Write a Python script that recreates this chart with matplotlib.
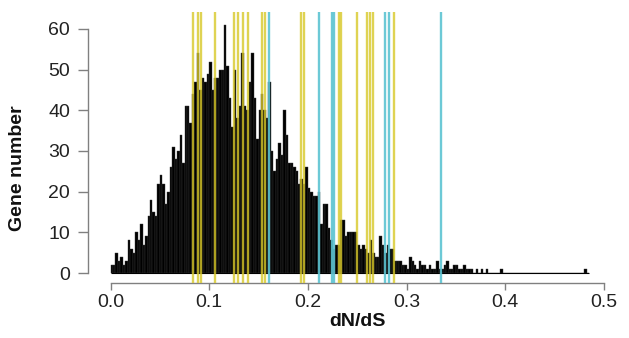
import numpy as np
import matplotlib
matplotlib.use("Agg")
from matplotlib import pyplot as plt

plt.rcParams["font.family"] = ["Liberation Sans", "DejaVu Sans"]

BIN_WIDTH = 0.0025
# gene counts per dN/dS bin, starting at 0.0
counts = [
    2, 2, 5, 3, 4, 2, 3, 8, 6, 5, 10, 8, 12, 7, 9, 14, 18, 15, 14, 22,
    24, 22, 17, 20, 26, 31, 28, 30, 34, 27, 41, 41, 37, 44, 47, 54, 45, 48, 47, 49,
    52, 45, 48, 48, 50, 50, 61, 51, 43, 36, 50, 38, 41, 54, 41, 40, 47, 54, 43, 33,
    40, 44, 40, 38, 47, 30, 25, 28, 32, 29, 40, 34, 27, 27, 26, 25, 22, 23, 22, 26,
    21, 20, 19, 19, 20, 12, 17, 17, 11, 8, 6, 7, 7, 13, 13, 9, 10, 10, 10, 10,
    7, 6, 7, 6, 5, 8, 5, 4, 4, 9, 7, 5, 7, 6, 6, 3, 3, 3, 2, 2,
    1, 4, 3, 2, 1, 3, 2, 2, 1, 2, 1, 1, 3, 1, 1, 2, 3, 1, 1, 2,
    2, 1, 1, 2, 1, 1, 1, 0, 1, 0, 1, 0, 1, 0, 0, 0, 0, 0, 1, 0,
    0, 0, 0, 0, 0, 0, 0, 0, 0, 0, 0, 0, 0, 0, 0, 0, 0, 0, 0, 0,
    0, 0, 0, 0, 0, 0, 0, 0, 0, 0, 0, 0, 1, 0,
]

# dN/dS of highlighted genes
yellow_genes = [0.084, 0.089, 0.092, 0.106, 0.125, 0.129, 0.134, 0.139, 0.154, 0.157,
                0.193, 0.196, 0.232, 0.234, 0.250, 0.260, 0.263, 0.266, 0.287]
cyan_genes = [0.161, 0.211, 0.224, 0.226, 0.278, 0.282, 0.335]

x_ticks = [0.0, 0.1, 0.2, 0.3, 0.4, 0.5]
y_ticks = [0, 10, 20, 30, 40, 50, 60]

W, H = 629, 338
fig = plt.figure(figsize=(W / 100, H / 100), dpi=100)
ax = fig.add_axes([88 / W, (H - 283) / H, (615 - 88) / W, (283 - 12) / H])

lefts = np.arange(len(counts)) * BIN_WIDTH
ax.bar(lefts, counts, width=BIN_WIDTH, align="edge", color="black",
       edgecolor="#3a3a3a", linewidth=0.3, zorder=2)
ax.hlines(0, 0, len(counts) * BIN_WIDTH, color="black", linewidth=0.8, zorder=2)

for g in yellow_genes:
    ax.axvline(g, color="#d8c828", alpha=0.8, linewidth=1.7, zorder=3)
for g in cyan_genes:
    ax.axvline(g, color="#5cc3d2", alpha=0.9, linewidth=1.7, zorder=3)

ax.set_xlim((88 - 110.5) / 987, (615 - 110.5) / 987)
ax.set_ylim((273 - 283) / 4.067, (273 - 12) / 4.067)

for side in ["top", "right"]:
    ax.spines[side].set_visible(False)
ax.spines["left"].set_bounds(0, 60)
ax.spines["bottom"].set_bounds(0, 0.5)
for side in ["left", "bottom"]:
    ax.spines[side].set_color("#808080")
    ax.spines[side].set_linewidth(1.0)

ax.set_xticks(x_ticks)
ax.set_xticklabels([f"{t:.1f}" for t in x_ticks])
ax.set_yticks(y_ticks)
ax.tick_params(axis="y", length=7, width=1.0, color="#808080", pad=6,
               labelsize=14, labelcolor="#222222")
ax.tick_params(axis="x", length=5, width=1.0, color="#808080", pad=3,
               labelsize=14, labelcolor="#222222")

fig.text(18 / W, 1 - 168 / H, "Gene number", rotation=90, ha="center", va="center",
         fontsize=14, fontweight="bold", color="#111111")
fig.text(357 / W, 1 - 321 / H, "dN/dS", ha="center", va="center",
         fontsize=14, fontweight="bold", color="#111111")

fig.savefig("out.png", dpi=100)
